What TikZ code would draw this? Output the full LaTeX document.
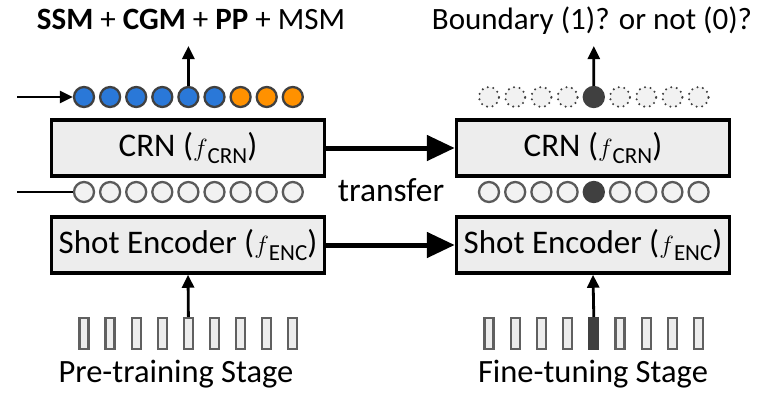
\documentclass[tikz,border=0pt]{standalone}
\usepackage{fontspec}
\setmainfont{Carlito}
\usetikzlibrary{arrows.meta}
\definecolor{boxgray}{HTML}{EDEDED}
\definecolor{blueF}{HTML}{2A78D8}
\definecolor{orangeF}{HTML}{FF9100}
\definecolor{ringdark}{HTML}{404040}
\definecolor{ringgray}{HTML}{5A5A5A}
\definecolor{framegray}{HTML}{606060}
\definecolor{lightfill}{HTML}{F2F2F2}
\newcommand{\fsub}[1]{$f$\raisebox{-0.22em}{\fontsize{23}{23}\selectfont #1}}
\begin{document}
\begin{tikzpicture}[x=1pt,y=-1pt,
  box/.style={draw=black, line width=3.5pt, fill=boxgray, minimum width=273pt,
    minimum height=56pt, inner sep=0pt, font=\fontsize{33}{38}\selectfont},
  lbl/.style={inner sep=0pt, font=\fontsize{31}{36}\selectfont},
  dotbase/.style={circle, minimum size=20pt, inner sep=0pt, line width=2.3pt},
  colc/.style={dotbase, draw=ringdark, fill=#1},
  hollowc/.style={dotbase, draw=ringgray, fill=lightfill},
  darkc/.style={dotbase, draw=ringdark, fill=ringdark},
  dottedc/.style={dotbase, draw=ringdark, fill=lightfill, line cap=round, dash pattern=on 0pt off 5.6pt},
  framebox/.style={rectangle, minimum width=9pt, minimum height=31pt, inner sep=0pt,
    line width=2.3pt, draw=framegray, fill=#1},
  thinarrow/.style={line width=2.8pt, -{Triangle[length=13pt,width=12pt]}},
  thinline/.style={line width=2.8pt},
  bigarrow/.style={line width=5pt, -{Triangle[length=28pt,width=25pt]}}
]
\useasboundingbox (0,0) rectangle (764,392);

% titles
\node[lbl, anchor=base] (titleL) at (191,29) {\textbf{SSM} + \textbf{CGM} + \textbf{PP} + MSM};
\node[lbl, anchor=base] (titleR) at (592,29) {Boundary (1)? or not (0)?};
\coordinate (tipL) at (188.4,46);
\coordinate (tipR) at (593.8,46);

% boxes
\node[box] (crnL) at (188,148) {CRN (\fsub{CRN})};
\node[box] (encL) at (188,245) {Shot Encoder (\fsub{ENC})};
\node[box] (crnR) at (593,148) {CRN (\fsub{CRN})};
\node[box] (encR) at (593,245) {Shot Encoder (\fsub{ENC})};

\draw[bigarrow] (crnL.east) -- (crnR.west);
\draw[bigarrow] (encL.east) -- (encR.west);

\node[lbl, font=\fontsize{33.5}{38}\selectfont] (transfer) at (391,190) {transfer};

% left rows
\foreach \i/\c in {1/blueF,2/blueF,3/blueF,4/blueF,5/blueF,6/blueF,7/orangeF,8/orangeF,9/orangeF}{
  \node[colc=\c] (tl\i) at ({84+26.1*(\i-1)},97) {};
  \node[hollowc] (gl\i) at ({84+26.1*(\i-1)},192) {};
  \node[framebox=boxgray] (fl\i) at ({84+26.1*(\i-1)},333.5) {};
}
% right rows
\foreach \i in {1,...,9}{
  \ifnum\i=5
    \node[darkc] (tr\i) at ({489+26.2*(\i-1)},97) {};
    \node[darkc] (gr\i) at ({489+26.2*(\i-1)},192) {};
    \node[framebox=ringdark, draw=ringdark] (fr\i) at ({489+26.2*(\i-1)},333.5) {};
  \else
    \node[dottedc] (tr\i) at ({489+26.2*(\i-1)},97) {};
    \node[hollowc] (gr\i) at ({489+26.2*(\i-1)},192) {};
    \node[framebox=boxgray] (fr\i) at ({489+26.2*(\i-1)},333.5) {};
  \fi
}

\coordinate (inA) at (17,97);
\coordinate (inB) at (17,192);
\draw[thinarrow] (inA) -- (tl1.west);
\draw[thinline] (inB) -- (gl1.west);

\draw[thinarrow] (tl5.north) -- (tipL);
\draw[thinarrow] (tr5.north) -- (tipR);
\draw[thinarrow] (fl5.north) -- (encL.south);
\draw[thinarrow] (fr5.north) -- (encR.south);

% stage labels
\node[lbl, anchor=base, font=\fontsize{32.5}{38}\selectfont] (stageL) at (176,382) {Pre-training Stage};
\node[lbl, anchor=base, font=\fontsize{32.5}{38}\selectfont] (stageR) at (593,382) {Fine-tuning Stage};
\end{tikzpicture}
\end{document}
